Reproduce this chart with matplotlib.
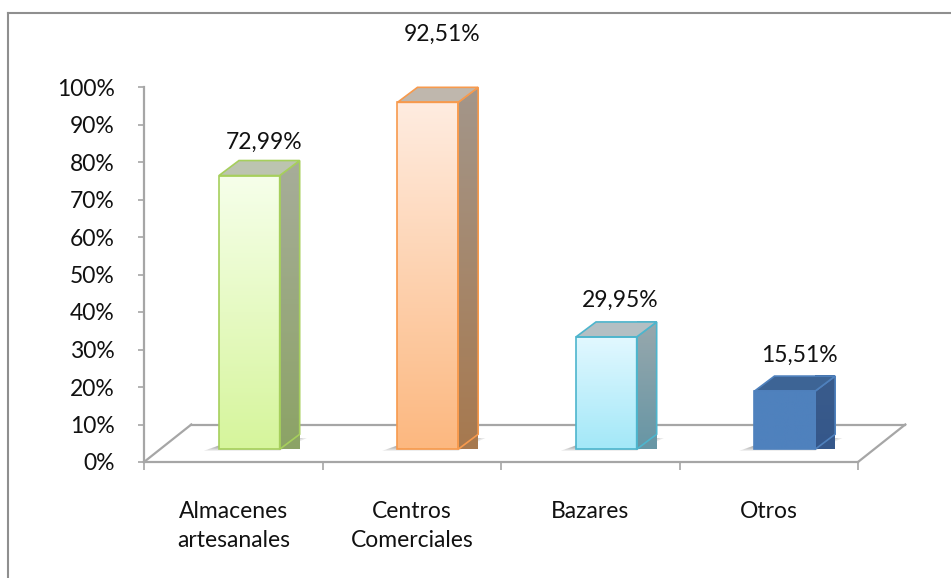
import numpy as np
import matplotlib
matplotlib.use('Agg')
import matplotlib.pyplot as plt
from matplotlib.patches import Polygon, Rectangle
from matplotlib.lines import Line2D

categories = ['Almacenes\nartesanales', 'Centros\nComerciales', 'Bazares', 'Otros']
values = [72.99, 92.51, 29.95, 15.51]
y_ticks = [0, 10, 20, 30, 40, 50, 60, 70, 80, 90, 100]

# front-face gradient (top, bottom), side gradient (top, bottom), top face, edge
front_top = ['#f6ffea', '#ffece0', '#e2f8ff', '#4f81bd']
front_bottom = ['#d6f59c', '#fcb880', '#a3e8f8', '#4f81bd']
side_top = ['#a7ad9a', '#a3968a', '#98a8ad', '#3a5c8c']
side_bottom = ['#8ca366', '#a7794f', '#6796a5', '#35578a']
top_face = ['#bcc4b0', '#bfb7ad', '#b3bfc3', '#3d6495']
edge_cols = ['#a6cf5c', '#f79a4d', '#4db5cd', '#4f81bd']
label_lift = [4.8, 14.2, 5.8, 5.6]

plt.rcParams['font.family'] = ['Lato', 'DejaVu Sans']
FS = 16.5

W, H = 951, 578
fig = plt.figure(figsize=(W / 100, H / 100), dpi=100)
fig.patch.set_facecolor('white')

# outer chart border (only the left and top edges fall inside the image)
fig.add_artist(Line2D([7.5 / W, 7.5 / W], [0, 1 - 12.5 / H], color='#8f8f8f', lw=1.5))
fig.add_artist(Line2D([7.5 / W, 1], [1 - 12.5 / H, 1 - 12.5 / H], color='#8f8f8f', lw=1.5))

ax = fig.add_axes([144 / W, (H - 462) / H, 714 / W, 375 / H])
ax.set_xlim(-0.5, len(values) - 0.5)
ax.set_ylim(0, 100)
ax.patch.set_alpha(0)

grey = '#a6a6a6'
for s in ['top', 'right']:
    ax.spines[s].set_visible(False)
for s in ['left', 'bottom']:
    ax.spines[s].set_color(grey)
    ax.spines[s].set_linewidth(1.6)

ax.set_yticks(y_ticks)
ax.set_yticklabels([f'{t}%' for t in y_ticks], fontsize=FS, color='#111111')
ax.tick_params(axis='y', direction='out', length=4, width=1.2, color=grey, pad=17)

ax.set_xticks(range(len(values)))
ax.set_xticklabels(categories, fontsize=FS, color='#111111', va='top', linespacing=1.5)
ax.set_xticks(np.arange(-0.5, len(values), 1), minor=True)
ax.tick_params(axis='x', which='major', length=0, pad=28)
ax.tick_params(axis='x', which='minor', direction='out', length=6, width=1.2, color=grey)

# floor depth (in category units / percent units)
floor_dx, floor_dy = 0.265, 10.0
n = len(values)
ax.add_line(Line2D([-0.5, -0.5 + floor_dx], [0, floor_dy], color=grey, lw=1.6,
                   clip_on=False, zorder=1))
ax.add_line(Line2D([n - 0.5, n - 0.5 + floor_dx], [0, floor_dy], color=grey, lw=1.6,
                   clip_on=False, zorder=1))
ax.add_line(Line2D([-0.5 + floor_dx, n - 0.5 + floor_dx], [floor_dy, floor_dy], color=grey,
                   lw=1.6, clip_on=False, zorder=1))

# bar placement inside the floor depth
pos = 0.34
base = floor_dy * pos
shift = floor_dx * pos
bw = 0.34
bdx, bdy = 0.112, 4.0


def grad(c_top, c_bot, n=64):
    a = np.array(matplotlib.colors.to_rgb(c_top))
    b = np.array(matplotlib.colors.to_rgb(c_bot))
    t = np.linspace(0, 1, n)[:, None]
    return (a * (1 - t) + b * t)[:, None, :]


for i, v in enumerate(values):
    x0 = i + shift - bw / 2
    x1 = x0 + bw
    top = base + v

    # soft shadow on the floor, built up from a few faint layers
    for k in range(4):
        g = 0.02 * k
        sh = Polygon([(x0 - 0.085 + g, base - 0.4 + 0.3 * k), (x1, base - 0.4 + 0.3 * k),
                      (x1 + bdx + 0.04 - g, base + bdy - 1.0), (x0 + bdx, base + bdy - 1.0)],
                     closed=True, facecolor='#444444', alpha=0.12, edgecolor='none',
                     zorder=2, clip_on=False)
        ax.add_patch(sh)

    # side face
    side_pts = [(x1, base), (x1 + bdx, base + bdy), (x1 + bdx, top + bdy), (x1, top)]
    side = Polygon(side_pts, closed=True, facecolor='none', edgecolor=edge_cols[i],
                   lw=1.2, zorder=4, clip_on=False)
    im = ax.imshow(grad(side_top[i], side_bottom[i]), extent=[x1, x1 + bdx, base, top + bdy],
                   aspect='auto', interpolation='bilinear', zorder=3, clip_on=False)
    clip = Polygon(side_pts, closed=True, transform=ax.transData)
    im.set_clip_path(clip)
    ax.add_patch(side)

    # top face
    ax.add_patch(Polygon([(x0, top), (x1, top), (x1 + bdx, top + bdy), (x0 + bdx, top + bdy)],
                         closed=True, facecolor=top_face[i], edgecolor=edge_cols[i],
                         lw=1.2, zorder=4, clip_on=False))

    # front face
    ax.imshow(grad(front_top[i], front_bottom[i]), extent=[x0, x1, base, top],
              aspect='auto', interpolation='bilinear', zorder=3, clip_on=False)
    ax.add_patch(Rectangle((x0, base), bw, v, facecolor='none', edgecolor=edge_cols[i],
                           lw=1.2, zorder=4, clip_on=False))

    label = f'{v:.2f}%'.replace('.', ',')
    ax.text(i + shift + 0.08, top + bdy + label_lift[i], label, ha='center', va='center',
            fontsize=FS, color='#111111', zorder=5, clip_on=False)

ax.set_xlim(-0.5, n - 0.5)
ax.set_ylim(0, 100)

fig.savefig('out.png', dpi=100, facecolor='white')
